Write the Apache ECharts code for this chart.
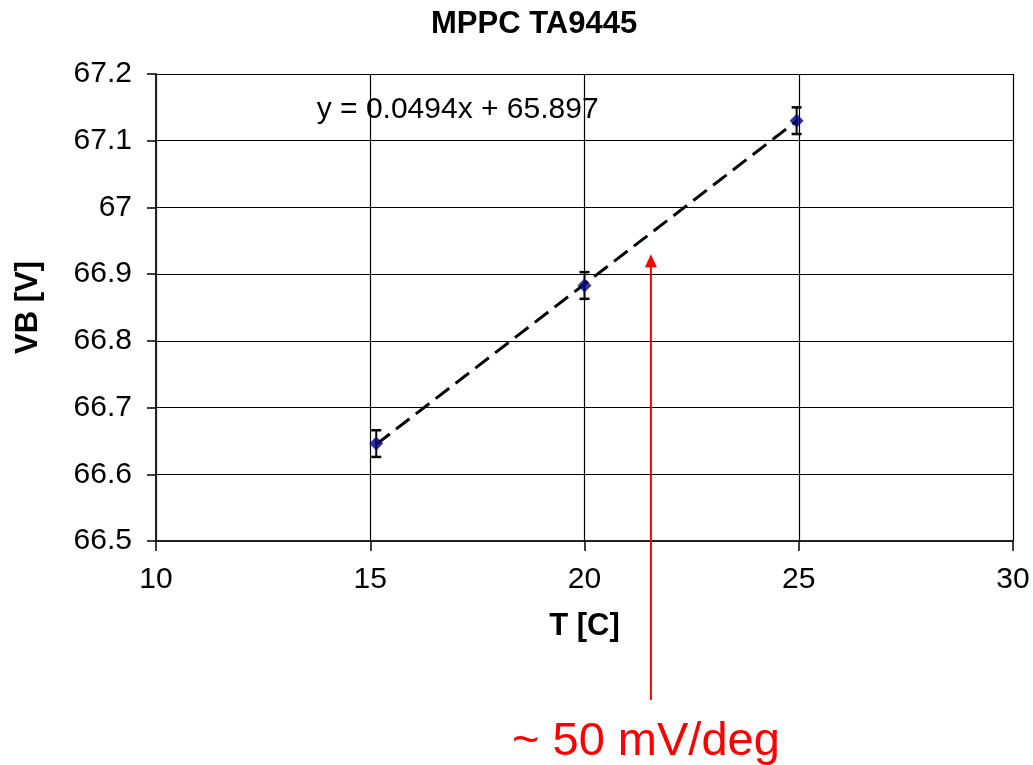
<!DOCTYPE html>
<html>
<head>
<meta charset="utf-8">
<script src="https://cdn.jsdelivr.net/npm/echarts@6/dist/echarts.min.js"></script>
<style>
  html, body { margin: 0; padding: 0; background: #fff; }
  #chart { width: 1033px; height: 765px; }
</style>
</head>
<body>
<div id="chart"></div>
<script>
// Breakdown voltage of MPPC TA9445 versus temperature
const temperature = [15.14, 20.0, 24.95];        // T [C]
const breakdownV = [66.646, 66.883, 67.130];     // VB [V]
const breakdownErr = [0.02, 0.02, 0.02];         // +/- error on VB
const fitSlope = 0.0494;
const fitIntercept = 65.897;
const xTicks = [10, 15, 20, 25, 30];
const yTicks = [66.5, 66.6, 66.7, 66.8, 66.9, 67, 67.1, 67.2];
const noteText = '~ 50 mV/deg';
const arrowTarget = [21.55, 66.93];
const equationAnchor = [13.75, 67.149];

const FONT = 'Liberation Sans, Arial, sans-serif';

const points = temperature.map((t, i) => [t, breakdownV[i]]);
const errData = temperature.map((t, i) => [t, breakdownV[i] - breakdownErr[i], breakdownV[i] + breakdownErr[i]]);
const xFirst = temperature[0], xLast = temperature[temperature.length - 1];
const fitLine = [[xFirst, fitSlope * xFirst + fitIntercept], [xLast, fitSlope * xLast + fitIntercept]];

const chart = echarts.init(document.getElementById('chart'), null, { renderer: 'canvas' });

const option = {
  animation: false,
  backgroundColor: '#ffffff',
  title: {
    text: 'MPPC TA9445',
    left: 426,
    top: 4,
    textStyle: { fontFamily: FONT, fontSize: 31, fontWeight: 'bold', color: '#000' }
  },
  grid: { left: 156, right: 20, top: 74, bottom: 224 },
  xAxis: {
    type: 'value',
    min: xTicks[0], max: xTicks[xTicks.length - 1], interval: 5,
    name: 'T [C]', nameLocation: 'middle', nameGap: 70,
    nameTextStyle: { fontFamily: FONT, fontSize: 31, fontWeight: 'bold', color: '#000' },
    axisLine: { show: true, onZero: false, lineStyle: { color: '#222', width: 2 } },
    axisTick: { show: true, length: 10, inside: false, lineStyle: { color: '#000', width: 1.5 } },
    axisLabel: { margin: 24, fontFamily: FONT, fontSize: 30, color: '#000',
      formatter: v => String(v) },
    splitLine: { show: true, lineStyle: { color: '#000', width: 1.2 } }
  },
  yAxis: {
    type: 'value',
    min: yTicks[0], max: yTicks[yTicks.length - 1], interval: 0.1,
    name: 'VB [V]', nameLocation: 'middle', nameGap: 112, nameRotate: 90,
    nameTextStyle: { fontFamily: FONT, fontSize: 31, fontWeight: 'bold', color: '#000' },
    axisLine: { show: true, onZero: false, lineStyle: { color: '#222', width: 2 } },
    axisTick: { show: true, length: 9, inside: false, lineStyle: { color: '#000', width: 1.5 } },
    axisLabel: { margin: 24, fontFamily: FONT, fontSize: 30, color: '#000',
      formatter: v => String(Math.round(v * 10) / 10) },
    splitLine: { show: true, lineStyle: { color: '#000', width: 1.2 } }
  },
  series: [
    {
      name: 'fit',
      type: 'line',
      data: fitLine,
      symbol: 'none',
      lineStyle: { color: '#000', width: 3, type: [17, 8] },
      z: 2
    },
    {
      name: 'error',
      type: 'custom',
      data: errData,
      z: 3,
      renderItem: function (params, api) {
        const x = api.value(0);
        const lo = api.coord([x, api.value(1)]);
        const hi = api.coord([x, api.value(2)]);
        const cap = 5;
        const style = { stroke: '#000', lineWidth: 2 };
        return {
          type: 'group',
          children: [
            { type: 'line', shape: { x1: lo[0], y1: lo[1], x2: hi[0], y2: hi[1] }, style: style },
            { type: 'line', shape: { x1: lo[0] - cap, y1: lo[1], x2: lo[0] + cap, y2: lo[1] }, style: { stroke: '#000', lineWidth: 2.5 } },
            { type: 'line', shape: { x1: hi[0] - cap, y1: hi[1], x2: hi[0] + cap, y2: hi[1] }, style: { stroke: '#000', lineWidth: 2.5 } }
          ]
        };
      }
    },
    {
      name: 'VB',
      type: 'scatter',
      data: points,
      symbol: 'diamond',
      symbolSize: 14,
      itemStyle: { color: '#00007f' },
      z: 4
    }
  ]
};

chart.setOption(option);

// Fit equation and the red slope annotation, placed from data coordinates
const eqPos = chart.convertToPixel({ gridIndex: 0 }, equationAnchor);
const tip = chart.convertToPixel({ gridIndex: 0 }, arrowTarget);
const tailY = 700;
const head = 13;
chart.setOption({
  graphic: [
    {
      type: 'text',
      left: eqPos[0], top: eqPos[1] - 13,
      style: {
        text: 'y = ' + fitSlope + 'x + ' + fitIntercept,
        font: '30px ' + FONT, fill: '#000'
      },
      z: 10
    },
    {
      type: 'line',
      shape: { x1: tip[0], y1: tailY, x2: tip[0], y2: tip[1] + head - 1 },
      style: { stroke: '#ff0000', lineWidth: 2 },
      z: 10
    },
    {
      type: 'polygon',
      shape: { points: [[tip[0], tip[1]], [tip[0] - 6, tip[1] + head], [tip[0] + 6, tip[1] + head]] },
      style: { fill: '#ff0000' },
      z: 10
    },
    {
      type: 'text',
      x: tip[0] - 5, y: 766,
      style: {
        text: noteText,
        font: '47px ' + FONT, fill: '#ff0000',
        textAlign: 'center', textVerticalAlign: 'bottom'
      },
      z: 10
    }
  ]
});
</script>
</body>
</html>
